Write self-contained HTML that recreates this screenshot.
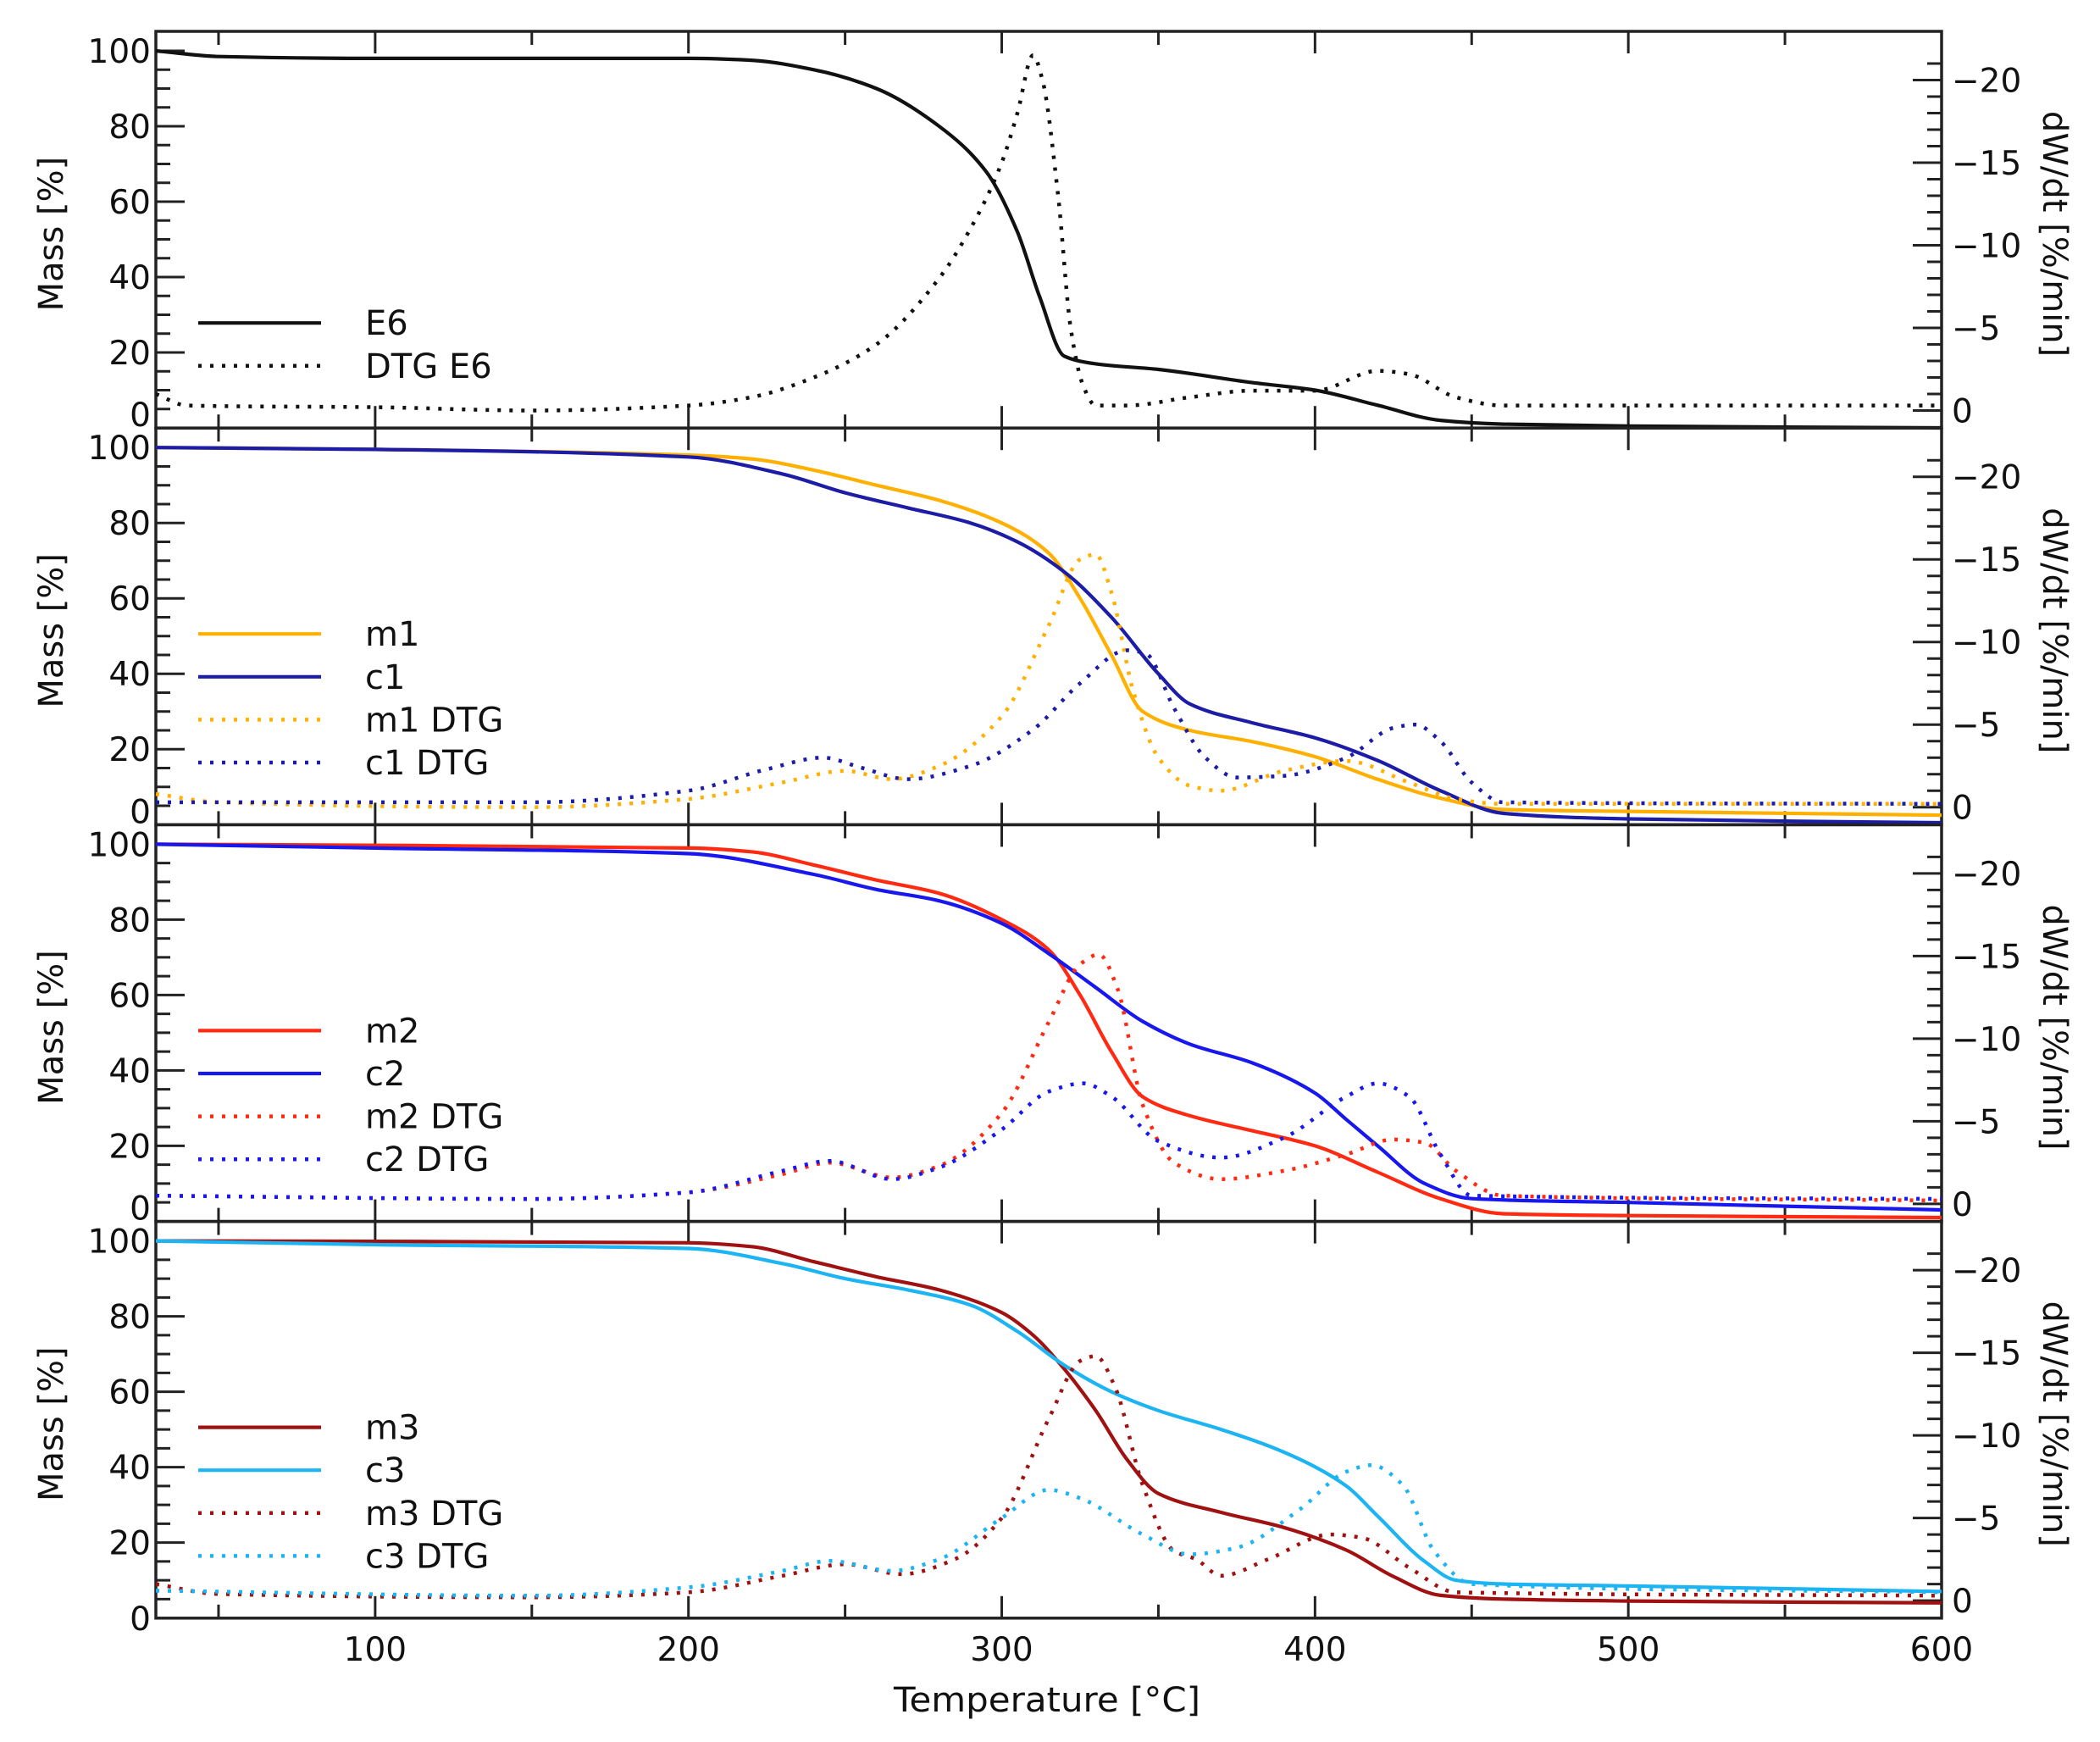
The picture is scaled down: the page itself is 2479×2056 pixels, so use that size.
<!DOCTYPE html>
<html><head><meta charset="utf-8"><title>TGA / DTG curves</title>
<style>html,body{margin:0;padding:0;background:#fff}svg{display:block}text{font-family:"DejaVu Sans","Liberation Sans",sans-serif;fill:#111}</style>
</head><body>
<svg id="chart" width="2479" height="2056" viewBox="0 0 2479 2056" xmlns="http://www.w3.org/2000/svg"></svg>
<script>
// ---- data (temperature °C, mass %, |dW/dt| %/min) ----
const xTicks = [100, 200, 300, 400, 500, 600];
const massTicks = [20, 40, 60, 80, 100];
const dtgTicks = [0, 5, 10, 15, 20];

const e6T    = [30,50,100,200,220,240,260,280,295,305,312,320,330,350,380,400,420,440,460,500,600];
const e6Mass = [100,98.5,98,98,97.5,95,90,80,68,52,35,19,17,15.5,12,10,6,2,1,0.5,0];
const e6DtgT = [30,40,100,150,200,220,240,260,280,290,300,305,310,313,318,322,326,330,340,360,380,400,420,430,445,460,500,600];
const e6Dtg  = [1.0,0.3,0.2,0,0.3,0.8,2,4,8,11,15,18,21.5,20,13,5,1.5,0.3,0.3,0.8,1.2,1.2,2.4,2.2,0.8,0.3,0.3,0.3];

const m1T    = [30,100,200,220,240,260,280,300,315,325,335,345,360,380,400,420,440,460,500,600];
const m1Mass = [100,99.5,98,97,94,90,86,80,72,60,45,30,25,22,18,12,7,4,3.5,2.5];
const c1T    = [30,100,200,230,250,270,290,305,320,335,350,360,380,400,420,440,460,500,600];
const c1Mass = [100,99.5,97.5,93,88,84,80,75,67,55,40,32,27,23,17,9,3,1.5,0.5];
const m1DtgT = [30,50,150,200,230,250,265,280,300,315,325,330,335,342,350,360,370,390,410,430,445,460,600];
const m1Dtg  = [0.8,0.3,0,0.5,1.5,2.2,1.7,2.5,5.5,11,15,15.3,13,7,3,1.3,1,2.2,2.8,1.5,0.5,0.2,0.2];
const c1DtgT = [30,150,200,225,243,255,270,290,310,325,340,346,355,365,375,390,410,425,432,440,450,460,600];
const c1Dtg  = [0.3,0.3,1,2.3,3.0,2.4,1.7,2.5,4.7,7.5,9.5,9.3,6,3,1.8,1.9,3,4.8,5,4,1.5,0.3,0.2];

const m2T    = [30,200,220,240,260,280,300,315,325,335,345,360,380,400,420,440,460,500,600];
const m2Mass = [100,99,98,94.5,90.5,87,80,72,60,45,33,28,24,20,13,6,2,1.5,1];
const c2T    = [30,100,200,240,260,280,300,315,330,345,360,380,400,410,420,435,450,500,600];
const c2Mass = [100,99,97.5,92,88,85,79,71,62,53,47,42,34,27,20,10,6,5,3];
const m2DtgT = [30,150,200,230,245,265,280,300,315,325,331,337,345,355,370,390,410,425,435,445,460,600];
const m2Dtg  = [0.5,0.3,0.7,1.8,2.5,1.6,2.3,5.5,11,14.5,15.1,13,6,2.5,1.5,2,3,3.9,3.7,2,0.5,0.2];
const c2DtgT = [30,150,200,230,245,265,280,300,315,326,335,350,370,390,410,420,430,440,450,600];
const c2Dtg  = [0.5,0.3,0.7,2,2.6,1.5,2.2,4.5,6.8,7.3,6.5,3.8,2.8,4,6.5,7.3,6.5,3,0.5,0.3];

const m3T    = [30,200,220,240,260,280,300,310,320,330,340,350,370,390,410,425,440,460,500,600];
const m3Mass = [100,99.5,98.5,94.5,90.5,87,81,75,66,55,42,33,28,24,18,11,6,5,4.5,4];
const c3T    = [30,100,200,230,250,270,290,305,320,335,350,370,390,410,420,435,445,460,500,600];
const c3Mass = [100,99,98,94,90,87,83,76,67,60,55,50,44,35,27,15,10,9,8.5,7];
const m3DtgT = [30,50,150,200,230,250,268,285,300,315,325,330,336,345,355,362,370,385,405,415,430,445,600];
const m3Dtg  = [1,0.4,0.2,0.5,1.5,2.2,1.6,2.5,5,11,14.5,14.8,13,7,3,2.5,1.5,2.5,4,3.8,2,0.5,0.3];
const c3DtgT = [30,150,200,230,245,265,280,300,315,325,345,360,375,395,410,418,428,438,450,600];
const c3Dtg  = [0.6,0.3,0.8,1.8,2.4,1.8,2.5,5,6.7,6.2,4,2.8,3.2,5.5,7.8,8.2,7,3,1,0.5];

// ---- layout ----
const NS = "http://www.w3.org/2000/svg";
const svg = document.getElementById("chart");
const L = 184, R = 2292, T0 = 37, PH = 468.2;
const X0 = 30, X1 = 600;
function xs(t){ return L + (t - X0) / (X1 - X0) * (R - L); }
function massY(top, m){ return top + 23 + (100 - m) * 4.45; }
function dtgY(top, d){ return top + 447.5 - d * 19.5; }

function el(tag, attrs, parent){
  const e = document.createElementNS(NS, tag);
  for (const k in attrs) e.setAttribute(k, attrs[k]);
  (parent || svg).appendChild(e);
  return e;
}
// monotone cubic (Fritsch-Carlson) path
function smoothPath(pts){
  const n = pts.length;
  const dx = [], dy = [], s = [];
  for (let i = 0; i < n-1; i++){ dx[i] = pts[i+1][0]-pts[i][0]; dy[i] = pts[i+1][1]-pts[i][1]; s[i] = dy[i]/dx[i]; }
  const m = [];
  m[0] = s[0]; m[n-1] = s[n-2];
  for (let i = 1; i < n-1; i++){
    if (s[i-1]*s[i] <= 0) m[i] = 0;
    else { const w1 = 2*dx[i]+dx[i-1], w2 = dx[i]+2*dx[i-1]; m[i] = (w1+w2)/(w1/s[i-1]+w2/s[i]); }
  }
  let d = "M" + pts[0][0].toFixed(1) + "," + pts[0][1].toFixed(1);
  for (let i = 0; i < n-1; i++){
    const h = dx[i]/3;
    d += " C" + (pts[i][0]+h).toFixed(1)+","+(pts[i][1]+m[i]*h).toFixed(1)+" "+
         (pts[i+1][0]-h).toFixed(1)+","+(pts[i+1][1]-m[i+1]*h).toFixed(1)+" "+
         pts[i+1][0].toFixed(1)+","+pts[i+1][1].toFixed(1);
  }
  return d;
}

const panels = [
  { series: [
      {name:"E6", T:e6T, v:e6Mass, kind:"mass", color:"#111", dot:false},
      {name:"DTG E6", T:e6DtgT, v:e6Dtg, kind:"dtg", color:"#111", dot:true}
    ], legStart: 2 },
  { series: [
      {name:"m1", T:m1T, v:m1Mass, kind:"mass", color:"#ffb000", dot:false},
      {name:"c1", T:c1T, v:c1Mass, kind:"mass", color:"#1c1ca6", dot:false},
      {name:"m1 DTG", T:m1DtgT, v:m1Dtg, kind:"dtg", color:"#ffb000", dot:true},
      {name:"c1 DTG", T:c1DtgT, v:c1Dtg, kind:"dtg", color:"#1c1ca6", dot:true}
    ], legStart: 0 },
  { series: [
      {name:"m2", T:m2T, v:m2Mass, kind:"mass", color:"#ff2a12", dot:false},
      {name:"c2", T:c2T, v:c2Mass, kind:"mass", color:"#1818ee", dot:false},
      {name:"m2 DTG", T:m2DtgT, v:m2Dtg, kind:"dtg", color:"#ff2a12", dot:true},
      {name:"c2 DTG", T:c2DtgT, v:c2Dtg, kind:"dtg", color:"#1818ee", dot:true}
    ], legStart: 0 },
  { series: [
      {name:"m3", T:m3T, v:m3Mass, kind:"mass", color:"#a01212", dot:false},
      {name:"c3", T:c3T, v:c3Mass, kind:"mass", color:"#1cb4f2", dot:false},
      {name:"m3 DTG", T:m3DtgT, v:m3Dtg, kind:"dtg", color:"#a01212", dot:true},
      {name:"c3 DTG", T:c3DtgT, v:c3Dtg, kind:"dtg", color:"#1cb4f2", dot:true}
    ], legStart: 0 }
];

panels.forEach(function(p, pi){
  const top = T0 + pi * PH, bot = top + PH;
  const g = el("g", {});
  
  

  const fr = el("rect", {x:L, y:top, width:R-L, height:PH, fill:"none", stroke:"#222", "stroke-width":3.5}, g);
  
  

  for (let m = 5; m <= 100; m += 5){
    const y = massY(top, m), len = (m % 20 === 0) ? 34 : 17;
    const tk = el("line", {x1:L, x2:L+len, y1:y, y2:y, stroke:"#222", "stroke-width":3}, g);
    
    
  }
  massTicks.forEach(function(m){
    const t = el("text", {x:L-6, y:massY(top, m)+14, "text-anchor":"end", "font-size":39}, g);
    t.textContent = m;
    
    
  });
  const z = el("text", {x:L-6, y:(pi === 3 ? bot : bot - 16) + 14, "text-anchor":"end", "font-size":39}, g);
  z.textContent = "0";
  
  

  for (let d = 0; d <= 21; d++){
    const y = dtgY(top, d), len = (d % 5 === 0) ? 34 : 17;
    const tk = el("line", {x1:R-len, x2:R, y1:y, y2:y, stroke:"#222", "stroke-width":3}, g);
    
    
  }
  dtgTicks.forEach(function(d){
    const t = el("text", {x:R+12, y:dtgY(top, d)+14, "font-size":39}, g);
    t.textContent = d === 0 ? "0" : "\u2212" + d;
    
    
  });

  for (let t = 50; t <= 550; t += 50){
    const x = xs(t), len = (t % 100 === 0) ? 26 : 16;
    const a = el("line", {x1:x, x2:x, y1:top, y2:top+len, stroke:"#222", "stroke-width":3}, g);
    
    
    const b = el("line", {x1:x, x2:x, y1:bot-len, y2:bot, stroke:"#222", "stroke-width":3}, g);
    
    
  }

  const my = top + PH/2 + 5;
  const mt = el("text", {x:0, y:0, "text-anchor":"middle", "font-size":40, transform:"translate(74,"+my+") rotate(-90)"}, g);
  mt.textContent = "Mass [%]";
  
  
  const dt = el("text", {x:0, y:0, "text-anchor":"middle", "font-size":40, transform:"translate(2412,"+my+") rotate(90)"}, g);
  dt.textContent = "dW/dt [%/min]";
  
  

  p.series.forEach(function(s, si){
    const pts = s.T.map(function(t, i){ return [xs(t), s.kind === "mass" ? massY(top, s.v[i]) : dtgY(top, s.v[i])]; });
    const attrs = {d:smoothPath(pts), fill:"none", stroke:s.color, "stroke-width":s.dot ? 4.5 : 4.2, "stroke-linejoin":"round"};
    if (s.dot){ attrs["stroke-dasharray"] = "4 10"; }
    const path = el("path", attrs, g);
    
    

    const ly = top + 243 + 50.6 * (si + p.legStart);
    const la = {x1:234, x2:379, y1:ly, y2:ly, stroke:s.color, "stroke-width":s.dot ? 4.5 : 4.2};
    if (s.dot){ la["stroke-dasharray"] = "4 10"; }
    const ll = el("line", la, g);
    
    
    const lt = el("text", {x:431, y:ly+14, "font-size":40}, g);
    lt.textContent = s.name;
    
    
  });
});

xTicks.forEach(function(t){
  const tx = el("text", {x:xs(t), y:1960, "text-anchor":"middle", "font-size":39});
  tx.textContent = t;
  
  
});
const xt = el("text", {x:1236, y:2020, "text-anchor":"middle", "font-size":40, textLength:362, lengthAdjust:"spacingAndGlyphs"});
xt.textContent = "Temperature [\u00B0C]";


</script>
</body></html>
